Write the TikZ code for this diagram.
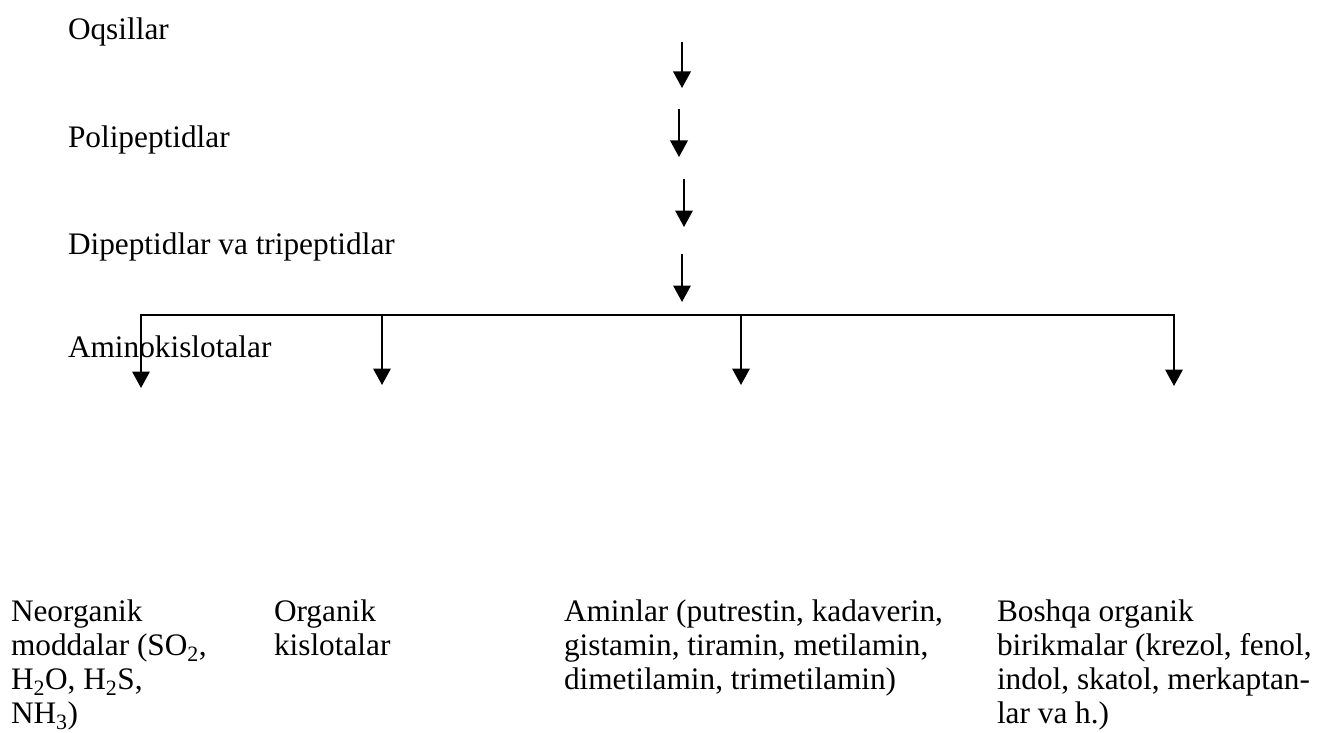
\documentclass[tikz,border=0pt]{standalone}
\usepackage{fontspec}
\setmainfont{Liberation Serif}
\usetikzlibrary{arrows.meta}
\tikzset{
  lbl/.style={anchor=base west, inner sep=0pt, outer sep=0pt, font=\fontsize{31.3}{34.3}\selectfont},
  arr/.style={line width=2pt, -{Triangle[length=16.5pt,width=17.5pt]}},
  bar/.style={line width=2pt, line cap=rect}
}
\newcommand{\col}[1]{\parbox[t]{420pt}{\raggedright\fontsize{31.3}{34.3}\selectfont #1}}
\begin{document}
\begin{tikzpicture}[x=1pt,y=-1pt]
\useasboundingbox (0,0) rectangle (1320,733);
% top labels
\node[lbl] (oq) at (68,40) {Oqsillar};
\node[lbl] (pol) at (68,147) {Polipeptidlar};
\node[lbl] (dip) at (68,254) {Dipeptidlar va tripeptidlar};
\node[lbl] (ami) at (68,357) {Aminokislotalar};
% vertical arrow coordinates
\coordinate (a1s) at (682,42);  \coordinate (a1e) at (682,88);
\coordinate (a2s) at (679,109); \coordinate (a2e) at (679,157);
\coordinate (a3s) at (684,179); \coordinate (a3e) at (684,227);
\coordinate (a4s) at (682,254); \coordinate (a4e) at (682,302);
\draw[arr] (a1s) -- (a1e);
\draw[arr] (a2s) -- (a2e);
\draw[arr] (a3s) -- (a3e);
\draw[arr] (a4s) -- (a4e);
% distribution bar
\coordinate (hl) at (141,315);
\coordinate (hr) at (1174,315);
\coordinate (h2) at (382,315);
\coordinate (h3) at (741,315);
\coordinate (b1) at (141,388);
\coordinate (b2) at (382,385);
\coordinate (b3) at (741,385);
\coordinate (b4) at (1174,386);
\draw[bar] (hl) -- (hr);
\draw[arr] (hl) -- (b1);
\draw[arr] (h2) -- (b2);
\draw[arr] (h3) -- (b3);
\draw[arr] (hr) -- (b4);
% bottom labels
\node[lbl] (neo) at (11,621) {\col{Neorganik\\moddalar (SO\textsubscript{2},\\H\textsubscript{2}O, H\textsubscript{2}S,\\NH\textsubscript{3})}};
\node[lbl] (org) at (274,621) {\col{Organik\\kislotalar}};
\node[lbl] (amn) at (564,621) {\col{Aminlar (putrestin, kadaverin,\\gistamin, tiramin, metilamin,\\dimetilamin, trimetilamin)}};
\node[lbl] (bos) at (997,621) {\col{Boshqa organik\\birikmalar (krezol, fenol,\\indol, skatol, merkaptan-\\lar va h.)}};
\end{tikzpicture}
\end{document}
